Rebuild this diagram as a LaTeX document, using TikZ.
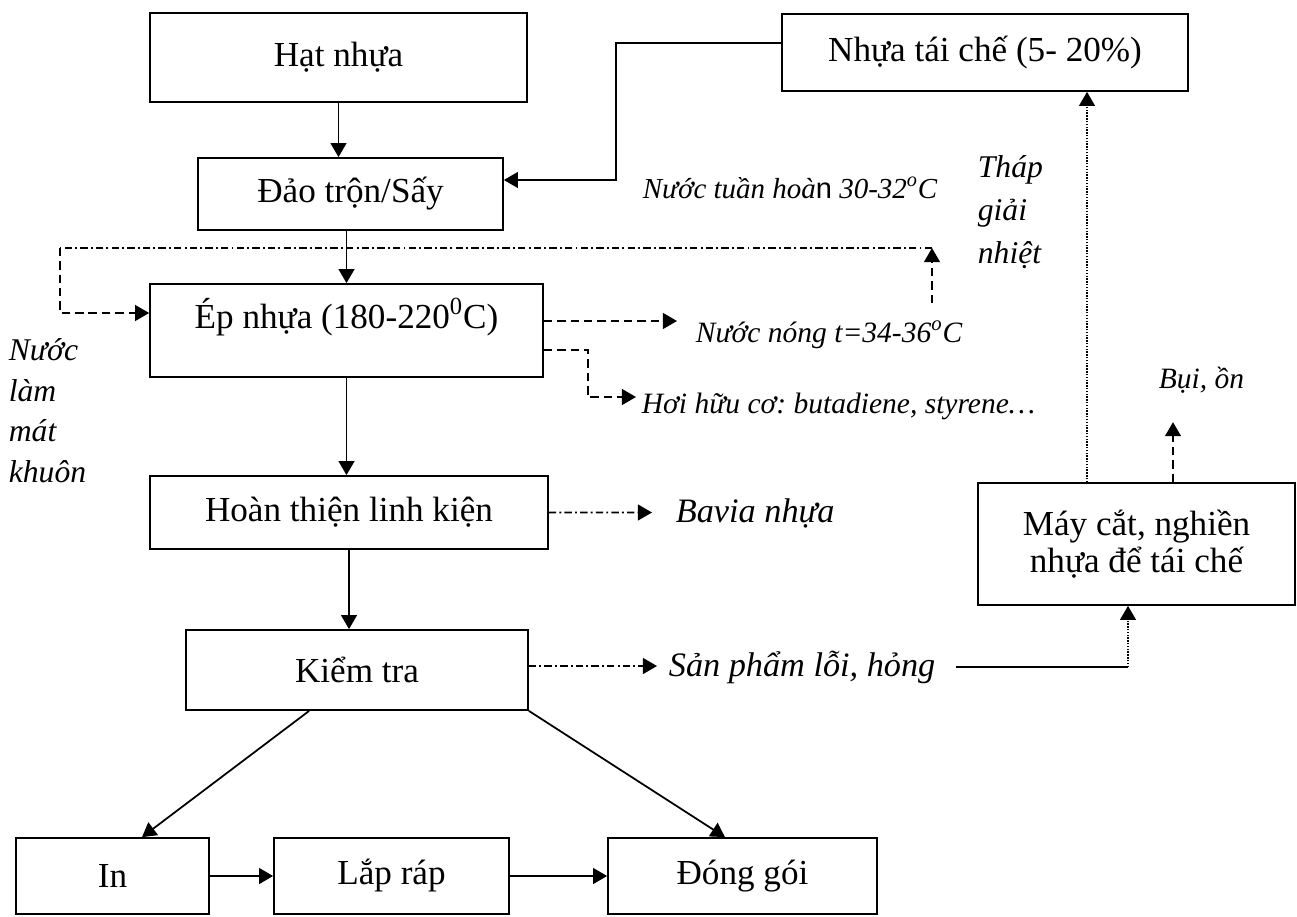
\documentclass[tikz,border=0pt]{standalone}
\usepackage{fontspec}
\setmainfont{Liberation Serif}
\newfontfamily\arialfont{Liberation Sans}
\usetikzlibrary{arrows.meta,calc}
\frenchspacing

\tikzset{
  box/.style={draw, inner sep=0pt, align=center, font=\fontsize{20}{21}\selectfont},
  note/.style={inner sep=0pt, anchor=base west, font=\fontsize{16.8}{19}\selectfont\itshape},
  bignote/.style={inner sep=0pt, anchor=base west, font=\fontsize{19.5}{22}\selectfont\itshape},
  sidenote/.style={inner sep=0pt, anchor=north west, align=left, font=\fontsize{18}{23}\selectfont\itshape},
  arr/.style={-{Triangle[length=8pt,width=9pt]}},
  dsh/.style={dash pattern=on 4.8pt off 2.8pt},
  dshdot/.style={dash pattern=on 4.2pt off 1.8pt on 1.1pt off 1.8pt},
  dots/.style={dash pattern=on 0.8pt off 0.8pt},
}

\begin{document}
\begin{tikzpicture}[x=0.02cm, y=-0.02cm, line width=1pt]
\useasboundingbox (0,0) rectangle (1297,916);

\node[box, minimum width=7.54cm, minimum height=1.78cm] (hat) at (338.5,57.5) {Hạt nhựa};
\node[box, minimum width=8.12cm, minimum height=1.54cm] (taiche) at (985,52.5) {Nhựa tái chế (5- 20\%)};
\node[box, minimum width=6.1cm, minimum height=1.44cm] (dao) at (350.5,194) {Đảo trộn/Sấy};
\node[box, minimum width=7.86cm, text height=0.88cm, text depth=0.98cm] (ep) at (346.5,330.5) {Ép nhựa (180-220\textsuperscript{0}C)};
\node[box, minimum width=7.96cm, minimum height=1.46cm] (hoan) at (349,512.5) {Hoàn thiện linh kiện};
\node[box, minimum width=6.84cm, minimum height=1.6cm] (kiem) at (357,670) {Kiểm tra};
\node[box, minimum width=6.34cm, minimum height=2.44cm] (may) at (1136.5,544) {Máy cắt, nghiền\\nhựa để tái chế};
\node[box, minimum width=3.86cm, minimum height=1.52cm] (in) at (112.5,876) {In};
\node[box, minimum width=4.7cm, minimum height=1.52cm] (lap) at (391.5,876) {Lắp ráp};
\node[box, minimum width=5.38cm, minimum height=1.52cm] (dong) at (742.5,876) {Đóng gói};

\node[note, font=\fontsize{16.5}{18}\selectfont\itshape] (tuanhoan) at (642,198) {Nước tuần hoà{\arialfont\upshape n} 30-32\textsuperscript{o}C};
\node[note] (nong) at (695,342) {Nước nóng t=34-36\textsuperscript{o}C};
\node[note] (hoi) at (641,413) {Hơi hữu cơ: butadiene, styrene…};
\node[note] (bui) at (1158,388) {Bụi, ồn};
\node[bignote] (bavia) at (675,522) {Bavia nhựa};
\node[bignote] (loi) at (668,676) {Sản phẩm lỗi, hỏng};
\node[sidenote, font=\fontsize{18}{24.5}\selectfont\itshape] (thap) at (977,155) {Tháp\\giải\\nhiệt};
\node[sidenote] (lammat) at (8,338) {Nước\\làm\\mát\\khuôn};

\coordinate (hot) at (932,303);
\coordinate (tower) at (932,248);
\coordinate (ret) at (60,248);
\coordinate (mfeed) at ($(may.north)+(-49.5,0)$);
\coordinate (scrap) at ($(may.south)+(-8.5,62)$);

\draw[arr] (hat.south) -- (hat.south |- dao.north);
\draw[arr] ($(taiche.west)+(0,-9.5)$) -- ++(-165,0) |- ($(dao.east)+(0,-14)$);
\draw[arr] (dao.south -| ep.north) -- (ep.north);
\draw[arr] (ep.south) -- (ep.south |- hoan.north);
\draw[arr] (hoan.south) -- (hoan.south |- kiem.north);
\draw[arr] ($(kiem.south west)+(124,0)$) -- ($(in.north)+(29.5,0)$);
\draw[arr] (kiem.south east) -- ($(dong.north)+(-17.5,0)$);
\draw[arr] (in.east) -- (lap.west);
\draw[arr] (lap.east) -- (dong.west);

\draw[dshdot] (tower) -- (ret);
\draw[dsh, arr] (hot) -- (tower);
\draw[dsh, arr] (ret) |- ($(ep.west)+(0,-17.5)$);
\draw[dsh, arr] ($(ep.east)+(0,-9.5)$) -- ($(nong.base west)+(-18,-21)$);
\draw[dsh, arr] ($(ep.east)+(0,19.5)$) -- ++(44,0) |- ($(hoi.base west)+(-5,-16)$);
\draw[dshdot, arr] (hoan.east) -- ($(bavia.base west)+(-23,-9.5)$);
\draw[dshdot, arr] ($(kiem.east)+(0,-4)$) -- ($(loi.base west)+(-11,-10)$);

\draw ($(loi.east)+(20,0)$) -- (loi.east -| scrap);
\draw[dots, arr] (loi.east -| scrap) -- (scrap |- may.south);
\draw[dots, arr] (mfeed) -- (mfeed |- taiche.south);
\draw[dsh, arr] ($(may.north)+(36.5,0)$) -- ++(0,-60);
\end{tikzpicture}
\end{document}
